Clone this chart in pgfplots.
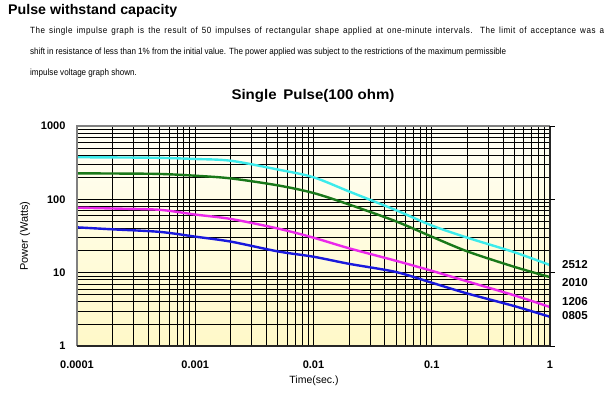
\documentclass[border=0pt]{standalone}
\usepackage{pgfplots}
\pgfplotsset{compat=1.18}
\usepackage{graphicx}
\usepackage{fontspec}
\setmainfont{Liberation Sans}

\definecolor{c2512}{RGB}{60,235,235}
\definecolor{c2010}{RGB}{25,120,25}
\definecolor{c1206}{RGB}{235,40,235}
\definecolor{c0805}{RGB}{25,25,220}
\definecolor{bgtop}{RGB}{255,255,246}
\definecolor{bgbot}{RGB}{255,249,200}

\newcommand\parafont{\fontsize{9}{10}\selectfont}
\newlength\Ltwo
\newcommand\lineone{The single impulse graph is the result of 50 impulses of rectangular shape applied at one-minute intervals. The limit of acceptance was a}
\newcommand\linetwo{shift in resistance of less than 1\% from the initial value. The power applied was subject to the restrictions of the maximum permissible}
\newcommand\linethree{impulse voltage graph shown.}

\begin{document}%
\settowidth\Ltwo{\parafont\linetwo}%
\pgfmathsetmacro\pf{476/\Ltwo}%
\pgfmathsetlengthmacro\Lone{574pt/\pf}%
\begin{tikzpicture}[x=1pt,y=1pt]
\path[use as bounding box] (0,0) rectangle (616,-399);

\node[anchor=west, inner sep=0] at (8,-11) {\resizebox{169pt}{\height}{\fontsize{14}{16}\selectfont\bfseries Pulse withstand capacity}};
\node[anchor=west, inner sep=0] at (30,-31) {\scalebox{\pf}[1]{\makebox[\Lone][s]{\parafont\addfontfeature{LetterSpace=6}\lineone}}};
\node[anchor=west, inner sep=0] at (30,-52) {\scalebox{\pf}[1]{\parafont\linetwo}};
\node[anchor=west, inner sep=0] at (30,-73) {\scalebox{\pf}[1]{\parafont\linethree}};

\node[inner sep=0] at (313,-96) {\resizebox{163pt}{\height}{\fontsize{14}{16}\selectfont\bfseries Single\, Pulse(100 ohm)}};

\begin{axis}[
  at={(77pt,-346pt)}, anchor=south west,
  scale only axis, width=473pt, height=220pt,
  xmode=log, ymode=log,
  xmin=1e-4, xmax=1, ymin=1, ymax=1000,
  grid=both,
  clip mode=individual,
  major grid style={black, line width=0.8pt},
  minor grid style={black, line width=0.8pt},
  tick style={draw=none},
  xtick={1e-4,1e-3,1e-2,1e-1,1},
  xticklabels={0.0001,0.001,0.01,0.1,1},
  minor xtick={2e-4,3e-4,4e-4,5e-4,6e-4,7e-4,8e-4,9e-4,
               2e-3,3e-3,4e-3,5e-3,6e-3,7e-3,8e-3,9e-3,
               2e-2,3e-2,4e-2,5e-2,6e-2,7e-2,8e-2,9e-2,
               0.2,0.3,0.4,0.5,0.6,0.7,0.8,0.9},
  ytick={1,10,100,1000},
  yticklabels={1,10,100,1000},
  minor ytick={2,3,4,5,6,7,8,9,20,30,40,50,60,70,80,90,200,300,400,500,600,700,800,900},
  ticklabel style={font=\fontsize{11}{13}\selectfont\bfseries},
  xticklabel style={yshift=-11pt},
  yticklabel style={xshift=-8pt},
  axis background/.style={top color=bgtop, bottom color=bgbot},
  axis line style={draw=none},
  every axis plot/.append style={line width=2.4pt, smooth, no markers},
]
\addplot[c2512] coordinates {(1e-4,375) (2e-4,373) (5e-4,368) (1e-3,355) (2e-3,336) (5e-3,255) (1e-2,200) (2e-2,128) (5e-2,71) (0.1,44) (0.2,30) (0.5,19) (1,12.7)};
\addplot[c2010] coordinates {(1e-4,226) (2e-4,225) (5e-4,222) (1e-3,210) (2e-3,193) (5e-3,155) (1e-2,122) (2e-2,85) (5e-2,50) (0.1,31) (0.2,19.5) (0.5,12) (1,8.7)};
\addplot[c1206] coordinates {(1e-4,77) (2e-4,75) (5e-4,72) (1e-3,62) (2e-3,54) (5e-3,40) (1e-2,30) (2e-2,21.5) (5e-2,14.5) (0.1,10.6) (0.2,7.6) (0.5,4.9) (1,3.4)};
\addplot[c0805] coordinates {(1e-4,41.5) (2e-4,39) (5e-4,36) (1e-3,31) (2e-3,26.5) (5e-3,19.5) (1e-2,16.5) (2e-2,13.2) (5e-2,10.2) (0.1,7.3) (0.2,5.2) (0.5,3.5) (1,2.5)};
\draw[gray, line width=1.6pt] (rel axis cs:0,0) -- (rel axis cs:0,1) -- (rel axis cs:1,1);
\draw[black!85, line width=1.6pt] (rel axis cs:1,1) -- (rel axis cs:1,0) -- (rel axis cs:0,0);
\pgfplotsinvokeforeach{1,10,100,1000}{\draw[black, line width=0.8pt] (axis cs:1,#1) -- ([xshift=5pt]axis cs:1,#1);}
\end{axis}

\node[rotate=90, inner sep=0] at (25,-236) {\fontsize{11}{13}\selectfont Power (Watts)};
\node[inner sep=0] at (314,-381) {\fontsize{10.5}{12}\selectfont Time(sec.)};

\begin{scope}[every node/.style={anchor=west, inner sep=0, font=\fontsize{11.5}{13}\selectfont\bfseries}]
\node at (562,-265) {2512};
\node at (562,-283) {2010};
\node at (562,-302) {1206};
\node at (562,-316) {0805};
\end{scope}
\end{tikzpicture}%
\end{document}
